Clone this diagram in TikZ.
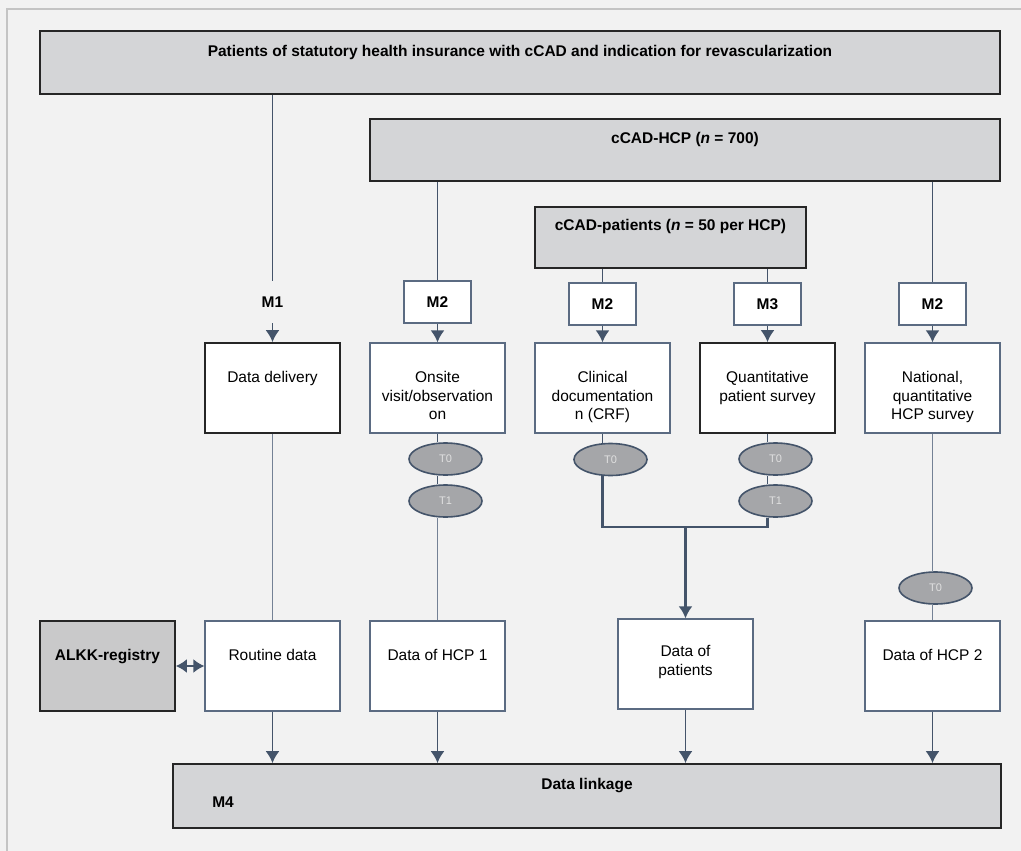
\documentclass[tikz,border=0pt]{standalone}
\usepackage{fontspec}
\setmainfont{Liberation Sans}
\usetikzlibrary{arrows.meta,shapes,positioning}
\definecolor{paper}{HTML}{F2F2F2}
\definecolor{framecol}{HTML}{C4C4C4}
\definecolor{boxgrey}{HTML}{D4D5D7}
\definecolor{regigrey}{HTML}{C9C9CA}
\definecolor{edge}{HTML}{5B6B82}
\definecolor{flow}{HTML}{44546A}
\definecolor{ovalgrey}{HTML}{A5A6A9}

\begin{document}
\begin{tikzpicture}[x=1pt, y=-1pt, font=\fontsize{15.5}{18.5}\selectfont]
        \tikzstyle{box} = [rectangle, draw=edge, line width=1.3, fill=white,
                           minimum width=135, minimum height=90, inner sep=0]
        \tikzstyle{darkbox} = [box, draw=black!85, line width=1.8]
        \tikzstyle{greybox} = [darkbox, fill=boxgrey]
        \tikzstyle{mbox} = [box, minimum width=67, minimum height=42]
        \tikzstyle{tpoint} = [ellipse, draw=flow, line width=1.6, fill=ovalgrey,
                              minimum width=73, minimum height=32, inner sep=0,
                              text=white!88!black, font=\fontsize{11}{13}\selectfont]
        \tikzstyle{txt} = [anchor=north, align=center, inner sep=0, yshift=-29]
        \tikzstyle{link} = [draw=flow, line width=1.4]
        \tikzstyle{thinlink} = [draw=edge!85, line width=0.9]
        \tikzstyle{heavy} = [draw=flow, line width=2.2]
        \tikzstyle{arrow} = [draw=flow, line width=1.8, -{Latex[length=12pt,width=14pt]}]
        \useasboundingbox (0,0) rectangle (1021,851);
        \fill[paper] (0,0) rectangle (1021,851);
        \draw[framecol, line width=1.2] (7,851) -- (7,9) -- (1021,9);

        \node[greybox, minimum width=960, minimum height=63,
              label={[txt, yshift=14]north:\textbf{Patients of statutory health insurance with cCAD and indication for revascularization}}]
              (pop) at (520,62.5) {};
        \node[greybox, minimum width=630, minimum height=62,
              label={[txt, yshift=15]north:\textbf{cCAD-HCP (\textit{n} = 700)}}]
              (hcp) at (685,150) {};
        \node[greybox, minimum width=271, minimum height=61,
              label={[txt, yshift=16]north:\textbf{cCAD-patients (\textit{n} = 50 per HCP)}}]
              (cpat) at (670.5,237.5) {};

        \node[minimum width=67, minimum height=42, inner sep=0] (m1) at (272.5,302) {\textbf{M1}};
        \node[mbox] (m2a) at (437.5,302) {\textbf{M2}};
        \node[mbox] (m2b) at (602.5,304) {\textbf{M2}};
        \node[mbox] (m3) at (767.5,304) {\textbf{M3}};
        \node[mbox] (m2c) at (932.5,304) {\textbf{M2}};

        \node[darkbox, label={[txt]north:Data delivery}] (deliv) at (272.5,388) {};
        \node[box, label={[txt]north:Onsite\\visit/observation\\on}] (onsite) at (437.5,388) {};
        \node[box, label={[txt]north:Clinical\\documentation\\n (CRF)}] (clin) at (602.5,388) {};
        \node[darkbox, label={[txt]north:Quantitative\\patient survey}] (quant) at (767.5,388) {};
        \node[box, label={[txt]north:National,\\quantitative\\HCP survey}] (natl) at (932.5,388) {};

        \node[tpoint] (t0a) at (445.5,459) {T0};
        \node[tpoint] (t1a) at (445.5,501) {T1};
        \node[tpoint] (t0b) at (610.5,459.5) {T0};
        \node[tpoint] (t0c) at (775.5,459) {T0};
        \node[tpoint] (t1c) at (775.5,501) {T1};
        \node[tpoint] (t0d) at (935.5,588) {T0};

        \node[greybox, fill=regigrey, label={[txt]north:\textbf{ALKK-registry}}] (alkk) at (107.5,666) {};
        \node[box, label={[txt]north:Routine data}] (routine) at (272.5,666) {};
        \node[box, label={[txt]north:Data of HCP 1}] (hcpa) at (437.5,666) {};
        \node[box, label={[txt, yshift=2]north:Data of\\patients}] (pats) at (685.5,664) {};
        \node[box, label={[txt]north:Data of HCP 2}] (hcpb) at (932.5,666) {};

        \node[greybox, minimum width=828, minimum height=64,
              label={[txt, yshift=14]north:\textbf{Data linkage}},
              label={[anchor=west, inner sep=0, xshift=40, yshift=-6]west:\textbf{M4}}]
              (linkage) at (587,796) {};

        \path[link] (m1.north |- pop.south) -- (m1.north);
        \path[arrow] (m1) -- (deliv);
        \path[link] (m2a.north |- hcp.south) -- (m2a);
        \path[link] (m2c.north |- hcp.south) -- (m2c);
        \path[link] (m2b.north |- cpat.south) -- (m2b);
        \path[link] (m3.north |- cpat.south) -- (m3);
        \path[arrow] (m2a) -- (onsite);
        \path[arrow] (m2b) -- (clin);
        \path[arrow] (m3) -- (quant);
        \path[arrow] (m2c) -- (natl);

        \path[thinlink] (deliv) -- (routine);
        \path[link] (onsite) -- (onsite |- t0a.north);
        \path[link] (onsite |- t0a.south) -- (onsite |- t1a.north);
        \path[thinlink] (onsite |- t1a.south) -- (hcpa);
        \path[link] (clin) -- (clin |- t0b.north);
        \path[link] (quant) -- (quant |- t0c.north);
        \path[link] (quant |- t0c.south) -- (quant |- t1c.north);
        \coordinate (join) at (685.5,527);
        \path[heavy] (clin |- t0b.south) |- (join) -| (quant |- t1c.south);
        \path[arrow, line width=2.2] (join) -- (pats);
        \path[thinlink] (natl) -- (natl |- t0d.north);
        \path[thinlink] (natl |- t0d.south) -- (hcpb);

        \path[arrow, {Latex[length=11pt,width=14pt]}-{Latex[length=11pt,width=14pt]}] (alkk) -- (routine);
        \path[arrow] (routine) -- (routine |- linkage.north);
        \path[arrow] (hcpa) -- (hcpa |- linkage.north);
        \path[arrow] (pats) -- (pats |- linkage.north);
        \path[arrow] (hcpb) -- (hcpb |- linkage.north);
      \end{tikzpicture}
\end{document}
